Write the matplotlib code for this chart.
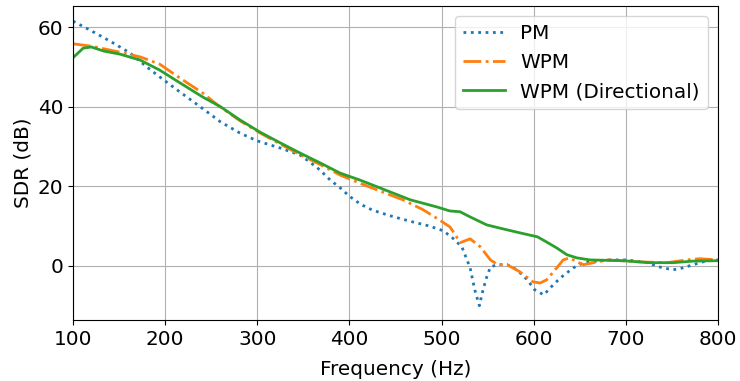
import matplotlib
matplotlib.use("Agg")
import matplotlib.pyplot as plt

# PM (dotted)
pm_f = [100, 118, 140, 162, 180, 194, 216, 238, 260, 281, 300, 325, 346, 357, 368, 379, 390,
        400, 412, 425, 444, 466, 487, 502, 512, 522, 531, 536, 541, 545, 549, 553, 560, 571, 582,
        593, 601, 611, 618, 629, 643, 654, 680, 701, 723, 737, 751, 762, 773, 788, 800]
pm_v = [61.5, 59.3, 56.5, 53.5, 50.0, 47.5, 43.7, 40.0, 36.2, 33.4, 31.4, 29.6, 27.9, 26.1, 24.1, 21.6, 19.6,
        17.5, 15.5, 14.0, 12.6, 11.2, 10.0, 8.8, 7.0, 4.8, -0.5, -6.0, -10.0, -6.0, -2.8, -0.3, 0.3, 0.3, -1.0,
        -3.5, -6.0, -7.3, -5.5, -3.0, -0.5, 0.8, 1.5, 1.5, 0.8, -0.3, -1.0, -0.5, 0.3, 1.3, 1.5]

# WPM (dash-dot)
wpm_f = [100, 120, 151, 173, 194, 216, 241, 257, 281, 303, 325, 346, 368, 390, 411, 422, 458, 480,
         498, 509, 515, 520, 531, 542, 553, 561, 571, 585, 599, 607, 614, 625, 632, 639, 647, 654,
         669, 680, 715, 745, 766, 780, 800]
wpm_v = [55.8, 55.2, 53.7, 52.5, 50.7, 47.2, 43.4, 40.4, 36.5, 33.4, 30.6, 28.0, 25.5, 22.8, 20.8, 19.8, 16.6, 14.1,
         11.5, 9.8, 7.8, 5.8, 6.8, 4.8, 1.5, 0.3, 0.3, -1.5, -4.0, -4.3, -3.5, -0.5, 1.5, 2.0, 1.0, 0.3,
         1.0, 1.5, 1.0, 0.8, 1.5, 1.8, 1.5]

# WPM (Directional) (solid)
wpmd_f = [100, 111, 120, 133, 151, 173, 194, 216, 241, 260, 281, 303, 325, 346, 368, 390, 411, 422,
          466, 495, 509, 520, 531, 549, 563, 585, 604, 614, 625, 636, 647, 661, 697, 726, 751, 773, 800]
wpmd_v = [52.3, 54.7, 55.0, 54.0, 53.2, 51.7, 49.2, 46.0, 42.4, 40.0, 36.7, 33.6, 30.9, 28.4, 25.9, 23.3, 21.6, 20.6,
          16.6, 14.8, 13.8, 13.6, 12.3, 10.3, 9.5, 8.3, 7.3, 6.0, 4.5, 2.8, 2.0, 1.5, 1.3, 0.8, 0.8, 1.2, 1.3]

plt.rcParams['font.size'] = 14.4
fig = plt.figure(figsize=(7.4, 3.81), dpi=100)
ax = fig.add_axes([73/740, 1 - 320/381, (718 - 73)/740, (320 - 6)/381])

ax.plot(pm_f, pm_v, linestyle=':', color='#1f77b4', linewidth=2, label='PM')
ax.plot(wpm_f, wpm_v, linestyle='-.', color='#ff7f0e', linewidth=2, label='WPM')
ax.plot(wpmd_f, wpmd_v, linestyle='-', color='#2ca02c', linewidth=2, label='WPM (Directional)')

ax.set_xlim(100, 800)
ax.set_ylim(-13.6, 65.3)
ax.set_xticks([100, 200, 300, 400, 500, 600, 700, 800])
ax.set_yticks([0, 20, 40, 60])
ax.grid(True)
ax.set_xlabel('Frequency (Hz)', labelpad=8)
ax.set_ylabel('SDR (dB)')
ax.legend(loc='upper right', handlelength=2.1)

fig.savefig('out.png', dpi=100)
